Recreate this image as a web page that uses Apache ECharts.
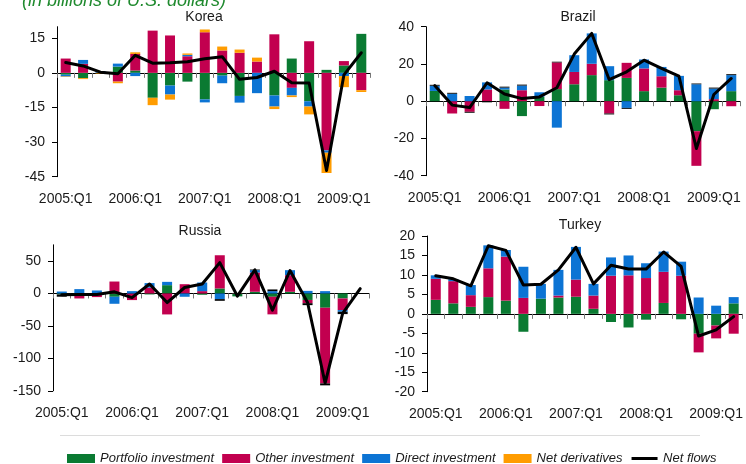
<!DOCTYPE html>
<html>
<head>
<meta charset="utf-8">
<script src="https://cdn.jsdelivr.net/npm/echarts@6/dist/echarts.min.js"></script>
<style>
  html, body { margin: 0; padding: 0; background: #fff; }
  #chart { width: 746px; height: 464px; }
</style>
</head>
<body>
<div id="chart"></div>
<script>
// quarters 2005:Q1 .. 2009:Q2
const quarters = ['2005:Q1', '2005:Q2', '2005:Q3', '2005:Q4', '2006:Q1', '2006:Q2', '2006:Q3', '2006:Q4',
  '2007:Q1', '2007:Q2', '2007:Q3', '2007:Q4', '2008:Q1', '2008:Q2', '2008:Q3', '2008:Q4', '2009:Q1', '2009:Q2']

// Korea
const koreaPortfolio = [-0.8, -2.3, 0, 2.7, 1.0, -10.8, -5.5, -3.8, -11.5, -1.2, -10.0, 0, -9.8, 6.2, -12.3, 1.3, 3.2, 16.9]
const koreaOther = [6.2, 3.9, 0, -3.8, 7.2, 18.3, 16.2, 7.2, 17.6, 9.7, 8.7, 4.9, 16.7, -6.5, 13.7, -33.6, 1.9, -7.5]
const koreaDirect = [-0.8, 1.7, 0.8, 1.3, -1.4, 0, -3.9, 0.6, -1.3, -3.3, -2.9, -8.8, -4.8, -3.3, -2.3, -1.0, -1.4, 0]
const koreaDeriv = [-0.2, -0.4, -0.3, -0.7, 0.7, -3.2, -2.2, 0.6, 1.2, 1.7, 1.4, 1.7, -1.1, -0.7, -3.4, -8.8, -4.8, -0.8]
const koreaNet = [4.5, 3.0, 0.3, -0.4, 7.6, 4.2, 4.4, 4.8, 6.1, 7.0, -2.8, -2.0, 0.7, -4.3, -4.4, -42.3, -0.9, 8.7]
const koreaTicks = [-45, -30, -15, 0, 15]

// Brazil
const brazilPortfolio = [5.5, 0, 0, 0, 6.3, -8.0, 2.4, 6.5, 9.1, 14.0, 11.3, 12.5, 5.4, 7.3, 3.2, -16.1, -4.3, 5.4]
const brazilOther = [0, -6.6, -5.7, 6.3, -4.1, 5.9, -2.6, 14.3, 6.6, 6.1, -6.6, 8.1, 12.2, 6.1, 2.7, -18.6, 1.1, -2.7]
const brazilDirect = [2.8, 4.0, 2.8, 3.8, 1.0, 2.5, 2.4, -14.2, 9.0, 16.3, 7.5, -3.6, 4.8, 5.0, 7.7, 9.1, 5.7, 8.6]
const brazilDeriv = [0.5, 0.5, -0.5, -0.6, 0.5, 0.5, 0, 0.4, 0, 0, -0.5, -0.5, 0, 0, 0, 0.4, 0.5, 0.5]
const brazilNet = [8.4, -2.1, -3.4, 9.9, 3.9, 1.4, 2.3, 7.2, 25.3, 36.4, 11.6, 15.8, 22.0, 17.6, 13.4, -25.4, 3.6, 12.2]
const brazilTicks = [-40, -20, 0, 20, 40]

// Russia
const russiaPortfolio = [-1.5, 0, 0, -5.1, 0, -1.5, 12.8, 0, -2.0, 7.7, -4.5, 2.6, -5.1, 2.6, -10.0, -22.0, -7.7, null]
const russiaOther = [0, -7.7, -5.6, 18.4, -10.2, 9.0, -32.3, 14.3, 3.6, 51.2, 0.5, 29.7, -27.1, 25.6, -5.0, -116.6, -17.9, null]
const russiaDirect = [3.0, 6.7, 4.6, -10.8, 3.6, 7.0, 5.1, -5.1, 13.3, -8.7, 0, 3.6, 3.6, 7.7, 4.0, 3.6, -2.6, null]
const russiaDeriv = [-3.5, 0, 0, 0, 0, 0, 0, 0, 0, -2.6, 0, 1.0, 2.6, 0, -3.0, -3.0, -3.6, null]
const russiaNet = [-2.0, -1.5, -1.5, 2.5, -6.5, 14.5, -14.0, 9.2, 14.5, 47.6, -4.0, 36.4, -25.8, 35.3, -14.0, -138, -30.7, 7.5]
const russiaTicks = [-150, -100, -50, 0, 50]

// Turkey
const turkeyPortfolio = [3.6, 2.7, 1.8, 4.3, 3.4, -4.6, 3.9, 4.2, 4.4, 1.3, -2.1, -3.5, -1.5, 2.8, -1.4, -5.1, -3.0, 2.7]
const turkeyOther = [5.4, 5.7, 3.0, 7.4, 11.3, 4.1, 0, 0.5, 4.4, 3.4, 9.8, 9.9, 9.2, 8.0, 9.8, -4.8, -3.3, -5.1]
const turkeyDirect = [0.9, 0.5, 2.6, 5.9, 1.7, 8.0, 3.8, 6.6, 8.4, 3.0, 4.7, 5.1, 3.8, 5.2, 3.6, 4.2, 2.1, 1.6]
const turkeyNet = [9.8, 9.0, 7.2, 17.5, 16.3, 7.4, 7.6, 11.3, 17.1, 7.7, 12.5, 11.5, 11.5, 15.9, 12.2, -5.7, -4.1, -0.7]
const turkeyTicks = [-20, -15, -10, -5, 0, 5, 10, 15, 20]

const FONT = 'Liberation Sans, Arial, sans-serif'
const GREEN = '#0a7a32'
const CRIMSON = '#c2004f'
const BLUE = '#0c74d4'
const ORANGE = '#ff9c00'
// thin bar inside the 28x9 legend box, used as the "Net flows" icon
const LINE_ICON = 'path://M0,0M0,9M1,3L27,3L27,6L1,6Z'

const panels = [
  { title: 'Korea', tx: 204, ty: 17, grid: { left: 57, top: 26.7, width: 313, height: 150 },
    min: -45, max: 20, ticks: koreaTicks, derivColor: ORANGE,
    portfolio: koreaPortfolio, other: koreaOther, direct: koreaDirect, deriv: koreaDeriv, net: koreaNet },
  { title: 'Brazil', tx: 578, ty: 17, grid: { left: 426, top: 26.7, width: 314, height: 149 },
    min: -40, max: 40, ticks: brazilTicks, derivColor: '#000',
    portfolio: brazilPortfolio, other: brazilOther, direct: brazilDirect, deriv: brazilDeriv, net: brazilNet },
  { title: 'Russia', tx: 200, ty: 231, grid: { left: 53, top: 244.8, width: 316, height: 146 },
    min: -150, max: 75, ticks: russiaTicks, derivColor: '#000',
    portfolio: russiaPortfolio, other: russiaOther, direct: russiaDirect, deriv: russiaDeriv, net: russiaNet },
  { title: 'Turkey', tx: 580, ty: 225, grid: { left: 427, top: 236, width: 316, height: 155.7 },
    min: -20, max: 20, ticks: turkeyTicks, derivColor: ORANGE,
    portfolio: turkeyPortfolio, other: turkeyOther, direct: turkeyDirect, deriv: null, net: turkeyNet }
]

const grids = []
const xAxes = []
const yAxes = []
const series = []
const graphics = [
  { type: 'text', x: 22, y: 10, style: { text: '(in billions of U.S. dollars)', fontFamily: FONT, fontSize: 18,
    fontStyle: 'italic', fill: '#1f8a2e', verticalAlign: 'bottom' } },
  { type: 'line', shape: { x1: 60, y1: 435.5, x2: 700, y2: 435.5 }, style: { stroke: '#dcdcdc', lineWidth: 1 } }
]

panels.forEach((p, i) => {
  grids.push(p.grid)
  graphics.push({ type: 'text', x: p.tx, y: p.ty, style: { text: p.title, fontFamily: FONT, fontSize: 14,
    fill: '#1a1a1a', align: 'center', verticalAlign: 'middle' } })

  // axis sitting on zero: line + ticks
  xAxes.push({
    type: 'category', gridIndex: i, data: quarters, position: 'bottom',
    axisLine: { onZero: true, lineStyle: { color: '#000', width: 1 } },
    axisTick: { show: true, interval: 0, length: 5, lineStyle: { color: '#777' } },
    axisLabel: { show: false }, splitLine: { show: false }
  })
  // axis at the bottom: labels only
  xAxes.push({
    type: 'category', gridIndex: i, data: quarters, position: 'bottom',
    axisLine: { show: false, onZero: false }, axisTick: { show: false },
    axisLabel: { interval: 3, fontSize: 14, fontFamily: FONT, color: '#1a1a1a', margin: 15 },
    splitLine: { show: false }
  })
  yAxes.push({
    type: 'value', gridIndex: i, min: p.min, max: p.max,
    axisLine: { show: true, lineStyle: { color: '#000', width: 1 } },
    axisTick: { show: true, length: 5, customValues: p.ticks, lineStyle: { color: '#000' } },
    axisLabel: { customValues: p.ticks, fontSize: 14, fontFamily: FONT, color: '#1a1a1a', margin: 12 },
    splitLine: { show: false }
  })

  const bar = (name, data, color) => ({
    name, type: 'bar', xAxisIndex: i * 2, yAxisIndex: i, stack: 'flows' + i,
    barWidth: 10, itemStyle: { color }, data
  })
  series.push(bar('Portfolio investment', p.portfolio, GREEN))
  series.push(bar('Other investment', p.other, CRIMSON))
  series.push(bar('Direct investment', p.direct, BLUE))
  if (p.deriv) series.push(bar('Net derivatives', p.deriv, p.derivColor))
  series.push({
    name: 'Net flows', type: 'line', xAxisIndex: i * 2, yAxisIndex: i, data: p.net,
    symbol: 'none', z: 5,
    lineStyle: { color: '#000', width: 3, cap: 'round', join: 'round' }, itemStyle: { color: '#000' }
  })
})

const chart = echarts.init(document.getElementById('chart'))
chart.setOption({
  animation: false,
  backgroundColor: '#fff',
  grid: grids,
  xAxis: xAxes,
  yAxis: yAxes,
  graphic: graphics,
  legend: {
    left: 62, top: 447, itemWidth: 28, itemHeight: 9, itemGap: 8,
    textStyle: { fontSize: 13, fontStyle: 'italic', fontFamily: FONT, color: '#1a1a1a' },
    data: [
      { name: 'Portfolio investment', icon: 'rect' },
      { name: 'Other investment', icon: 'rect' },
      { name: 'Direct investment', icon: 'rect' },
      { name: 'Net derivatives', icon: 'rect' },
      { name: 'Net flows', icon: LINE_ICON }
    ]
  },
  series
})
</script>
</body>
</html>
